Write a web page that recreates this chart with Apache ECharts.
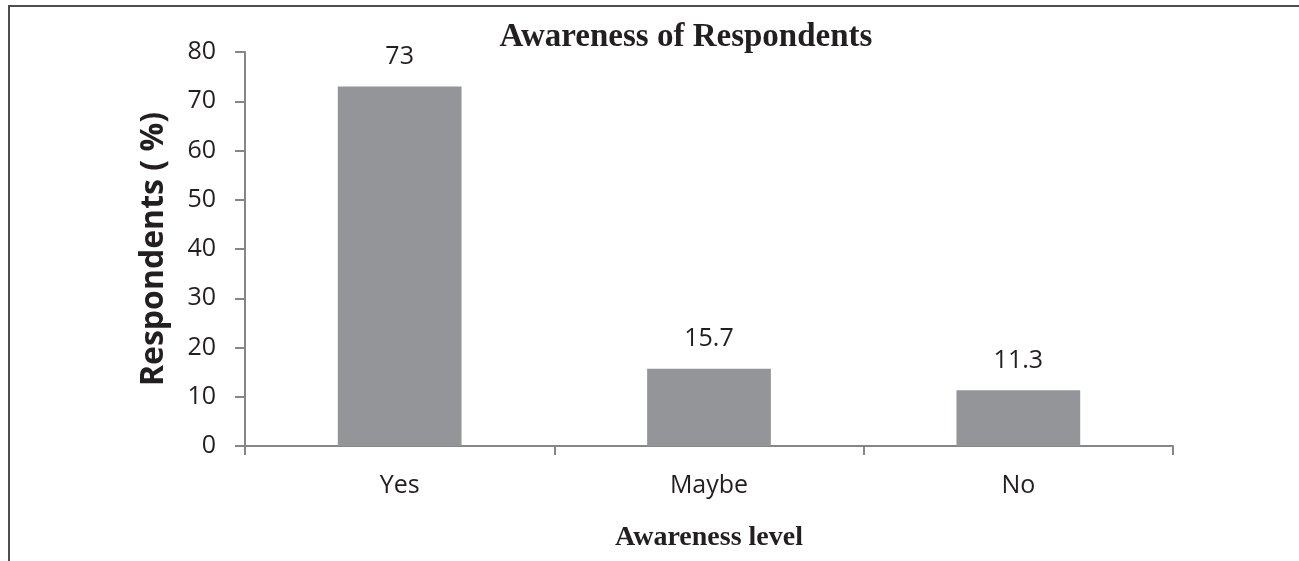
<!DOCTYPE html>
<html>
<head>
<meta charset="utf-8">
<script src="https://cdn.jsdelivr.net/npm/echarts@6/dist/echarts.min.js"></script>
<style>html,body{margin:0;padding:0;background:#fff}#c{width:1299px;height:561px}</style>
</head>
<body>
<div id="c"></div>
<script>
const categories = ['Yes', 'Maybe', 'No'];
const values = [73, 15.7, 11.3];
const yTicks = [0, 10, 20, 30, 40, 50, 60, 70, 80];

const chart = echarts.init(document.getElementById('c'), null, {renderer: 'canvas'});
chart.setOption({
  animation: false,
  backgroundColor: '#fff',
  title: {
    text: 'Awareness of Respondents',
    left: 681, top: 16, textAlign: 'center',
    textStyle: {fontFamily: 'Liberation Serif', fontWeight: 'bold', fontSize: 33, color: '#231f20'}
  },
  graphic: [{
    type: 'polyline',
    shape: {points: [[9, 561], [9, 6], [1299, 6]]},
    style: {stroke: '#4d4d4d', lineWidth: 2, fill: null}
  }],
  grid: {left: 245, right: 126, top: 52, bottom: 115},
  xAxis: {
    type: 'category',
    data: categories,
    name: 'Awareness level',
    nameLocation: 'middle',
    nameGap: 78,
    nameTextStyle: {fontFamily: 'Liberation Serif', fontWeight: 'bold', fontSize: 28, color: '#231f20'},
    axisLine: {lineStyle: {color: '#868686', width: 2}},
    axisTick: {show: true, length: 9, alignWithLabel: false, lineStyle: {color: '#868686', width: 2}},
    axisLabel: {fontFamily: 'Open Sans', fontSize: 25, color: '#231f20', margin: 27}
  },
  yAxis: {
    type: 'value',
    min: 0, max: 80, interval: 10,
    name: 'Respondents ( %)',
    nameLocation: 'middle',
    nameGap: 75,
    nameTextStyle: {fontFamily: 'Open Sans', fontWeight: 'bold', fontSize: 32, color: '#231f20'},
    axisLine: {show: true, lineStyle: {color: '#868686', width: 2}},
    axisTick: {show: true, length: 10, lineStyle: {color: '#868686', width: 2}},
    splitLine: {show: false},
    axisLabel: {
      fontFamily: 'Open Sans', fontSize: 25, color: '#231f20', margin: 29,
      formatter: v => yTicks.includes(v) ? String(v) : ''
    }
  },
  series: [{
    type: 'bar',
    data: values,
    barWidth: '40%',
    itemStyle: {color: '#939598'},
    label: {
      show: true, position: 'top', distance: 17,
      fontFamily: 'Open Sans', fontSize: 25, color: '#231f20'
    }
  }]
});
</script>
</body>
</html>
